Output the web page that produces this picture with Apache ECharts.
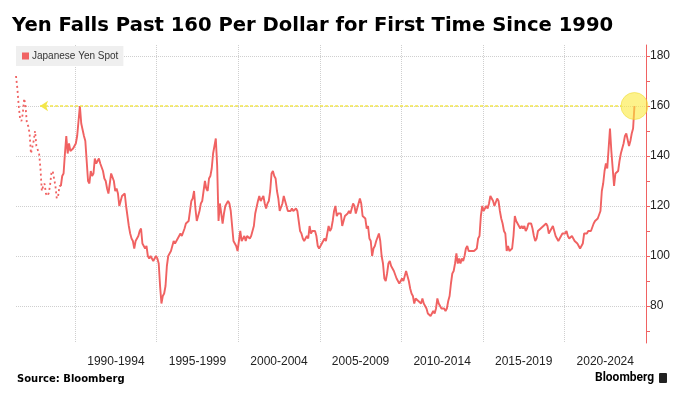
<!DOCTYPE html>
<html>
<head>
<meta charset="utf-8">
<title>Yen Falls Past 160 Per Dollar</title>
<script src="https://cdn.jsdelivr.net/npm/echarts@6/dist/echarts.min.js"></script>
<style>
	html,body{margin:0;padding:0;background:#fff;}
	#chart{width:689px;height:399px;}
</style>
</head>
<body>
<div id="chart"></div>
<script>
// monthly USD/JPY readings, May 1986 .. Apr 2024 (one row per year)
var startYear = 1986;
var startMonth = 5;
var yenMonthly = [
	172, 167, 160, 155, 154, 157, 163, 160,
	153, 152, 149, 141, 141, 146, 150, 144, 144, 141, 135, 126,
	128, 129, 125, 124, 125, 128, 133, 134, 134, 128, 123, 124,
	128, 128, 132, 133, 141, 148, 141, 145, 142, 142, 143, 144,
	145, 148, 154, 160, 153, 153, 148, 146, 138, 130, 129, 134,
	132, 133, 139, 137, 138, 139, 137, 137, 134, 131, 130, 127,
	125, 129, 133, 133, 130, 126, 127, 125, 120, 122, 124, 124,
	125, 120, 116, 112, 109, 107, 106, 103, 106, 107, 108, 110,
	111, 105, 104, 103, 104, 100, 99, 100, 99, 98, 98, 100,
	99, 97, 88, 81, 84, 85, 88, 96, 100, 101, 102, 102,
	106, 105, 106, 106, 108, 109, 108, 108, 111, 113, 113, 114,
	118, 122, 123, 126, 119, 114, 116, 118, 121, 122, 126, 130,
	127, 126, 131, 132, 135, 141, 141, 147, 136, 114, 121, 117,
	113, 117, 120, 120, 122, 121, 118, 112, 106, 105, 104, 102,
	106, 110, 106, 106, 108, 106, 108, 108, 107, 108, 110, 112,
	117, 117, 122, 124, 122, 123, 124, 121, 119, 121, 122, 126,
	133, 134, 132, 131, 126, 123, 118, 118, 121, 124, 122, 122,
	118, 118, 118, 119, 118, 118, 119, 118, 114, 110, 109, 107,
	106, 107, 108, 107, 112, 109, 110, 110, 110, 108, 104, 103,
	103, 105, 105, 107, 106, 109, 112, 110, 111, 114, 118, 120,
	116, 117, 117, 117, 112, 114, 116, 116, 117, 118, 117, 117,
	121, 120, 117, 119, 121, 123, 121, 116, 116, 115, 111, 112,
	107, 106, 100, 103, 104, 106, 106, 109, 106, 100, 97, 91,
	90, 93, 97, 98, 96, 96, 94, 94, 91, 90, 89, 90,
	91, 90, 90, 94, 92, 90, 87, 85, 84, 81, 83, 83,
	82, 82, 81, 83, 81, 80, 79, 77, 77, 76, 77, 78,
	77, 79, 83, 81, 80, 79, 79, 79, 78, 79, 82, 84,
	89, 93, 94, 97, 101, 97, 99, 97, 99, 98, 100, 103,
	104, 102, 102, 102, 102, 102, 102, 103, 107, 108, 116, 120,
	118, 119, 120, 119, 121, 124, 123, 122, 120, 120, 123, 122,
	118, 115, 113, 110, 109, 102, 104, 102, 102, 103, 108, 116,
	114, 113, 113, 111, 112, 111, 112, 110, 111, 113, 113, 113,
	111, 108, 106, 107, 110, 110, 111, 111, 112, 112, 113, 112,
	109, 110, 111, 112, 110, 108, 108, 106, 107, 108, 109, 109,
	109, 110, 108, 107, 107, 108, 107, 106, 106, 105, 104, 103,
	104, 105, 109, 109, 109, 110, 110, 110, 110, 113, 114, 114,
	115, 115, 118, 126, 129, 134, 137, 135, 143, 151, 142, 135,
	128, 133, 133, 134, 138, 141, 141, 145, 148, 149, 149, 144,
	146, 149, 151, 160
];
// the early part of the record is sparse, drawn dotted up to this many months
var sparseMonths = 33;

var gridYears = [1990, 1995, 2000, 2005, 2010, 2015, 2020];
var periodLabels = ['1990-1994', '1995-1999', '2000-2004', '2005-2009', '2010-2014', '2015-2019', '2020-2024'];
var yTicks = [70, 80, 90, 100, 110, 120, 130, 140, 150, 160, 170, 180];
var yLabels = [80, 100, 120, 140, 160, 180];

var threshold = 160;
var arrowFrom = 1987.85;
var arrowTo = 2023.5;

window.onload = function(){
	var points = yenMonthly.map(function(v, i){
		return [startYear + (startMonth - 1 + i + 0.5) / 12, v];
	});
	var early = points.slice(0, sparseMonths + 1);
	var later = points.slice(sparseMonths);
	var last = points[points.length - 1];
	var periodMids = gridYears.map(function(y){ return y + 2.5; });

	var red = '#f06262';
	var myChart = echarts.init(document.getElementById('chart'));
	var option = {
		animation: false,
		textStyle: { fontFamily: 'Liberation Sans' },
		legend: {
			data: ['Japanese Yen Spot'],
			left: 16,
			top: 46,
			padding: [5, 5, 5, 6],
			backgroundColor: '#efefef',
			icon: 'rect',
			itemWidth: 7,
			itemHeight: 7,
			itemGap: 3,
			textStyle: { fontSize: 10, color: '#333', padding: [0, 0, 0, -2] }
		},
		grid: { left: 16, right: 43, top: 45, bottom: 56 },
		xAxis: {
			type: 'value',
			min: startYear + (startMonth - 1 + 0.5) / 12,
			max: 2025,
			axisLine: { show: false },
			axisTick: { show: false, customValues: gridYears },
			splitLine: { show: true, lineStyle: { color: '#cfcfcf', type: 'dotted' } },
			axisLabel: {
				customValues: periodMids,
				margin: 13,
				fontSize: 12,
				color: '#222',
				formatter: function(v){
					var i = periodMids.indexOf(v);
					return i >= 0 ? periodLabels[i] : '';
				}
			}
		},
		yAxis: [{
			type: 'value',
			position: 'right',
			min: 65.2,
			max: 184.4,
			axisLine: { show: true, lineStyle: { color: red } },
			axisTick: { show: true, length: 4, customValues: yTicks, lineStyle: { color: red } },
			axisLabel: { customValues: yLabels, margin: 4, fontSize: 12, color: '#222' },
			splitLine: { show: false }
		}, {
			type: 'value',
			position: 'right',
			min: 65.2,
			max: 184.4,
			axisLine: { show: false },
			axisTick: { show: false, customValues: yLabels },
			axisLabel: { show: false },
			splitLine: { show: true, lineStyle: { color: '#cfcfcf', type: 'dotted' } }
		}],
		series: [{
			name: 'Japanese Yen Spot',
			type: 'line',
			data: early,
			showSymbol: false,
			itemStyle: { color: red },
			lineStyle: { color: red, width: 1.8, type: [2, 3] }
		}, {
			name: 'Japanese Yen Spot',
			type: 'line',
			data: later,
			showSymbol: false,
			itemStyle: { color: red },
			lineStyle: { color: red, width: 1.9 },
			markLine: {
				silent: true,
				symbol: ['arrow', 'none'],
				symbolSize: 8,
				label: { show: false },
				lineStyle: { color: '#f3e64a', width: 1.5, type: [3, 2] },
				data: [[{ coord: [arrowFrom, threshold] }, { coord: [arrowTo, threshold] }]]
			},
			markPoint: {
				silent: true,
				symbol: 'circle',
				symbolSize: 27,
				label: { show: false },
				itemStyle: { color: 'rgba(252,234,60,0.6)', borderColor: 'rgba(235,215,40,0.5)', borderWidth: 1 },
				data: [{ coord: [last[0], threshold] }]
			}
		}],
		graphic: [{
			type: 'text',
			left: 12,
			top: 16,
			style: {
				text: 'Yen Falls Past 160 Per Dollar for First Time Since 1990',
				font: 'bold 19.6px "DejaVu Sans"',
				fill: '#000'
			}
		}, {
			type: 'text',
			left: 17,
			top: 374,
			style: { text: 'Source: Bloomberg', font: 'bold 10px "DejaVu Sans"', fill: '#000' }
		}, {
			type: 'text',
			left: 595,
			top: 372,
			style: { text: 'Bloomberg', font: 'bold 12px Roboto', fill: '#000' }
		}, {
			type: 'rect',
			left: 659,
			top: 373,
			shape: { width: 8, height: 10, r: 1 },
			style: { fill: '#222' }
		}]
	};
	myChart.setOption(option);
	window.addEventListener('resize', function(){
		myChart.resize();
	});
};
</script>
</body>
</html>
